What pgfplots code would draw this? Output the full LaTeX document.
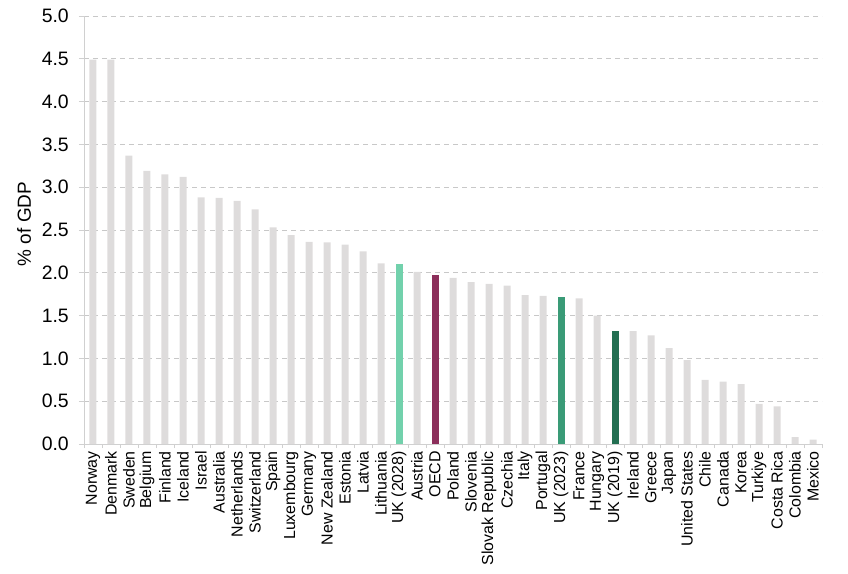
\documentclass[border=0pt]{standalone}
\usepackage{pgfplots}
\pgfplotsset{compat=1.18}
\usepackage{fontspec}
\setmainfont{Liberation Sans}
\definecolor{barg}{HTML}{DEDCDC}
\definecolor{uka}{HTML}{72D1AC}
\definecolor{oecd}{HTML}{8C2F5B}
\definecolor{ukb}{HTML}{3A9B77}
\definecolor{ukc}{HTML}{236F52}
\definecolor{gridc}{HTML}{C8C8C8}
\definecolor{axc}{HTML}{D0D0D0}
\begin{document}
\begin{tikzpicture}
\path[use as bounding box] (-84bp,-130bp) rectangle (764bp,444bp);
\begin{axis}[
  at={(0,0)}, anchor=south west,
  scale only axis, width=738bp, height=428bp,
  xmin=-0.5, xmax=40.5, ymin=0, ymax=5,
  ybar, bar width=7bp, bar shift=0pt,
  axis x line*=bottom, axis y line*=left,
  axis line style={axc, line width=0.8bp},
  xtick={0,...,40},
  xticklabels={Norway,Denmark,Sweden,Belgium,Finland,Iceland,Israel,Australia,Netherlands,Switzerland,Spain,Luxembourg,Germany,New Zealand,Estonia,Latvia,Lithuania,UK (2028),Austria,OECD,Poland,Slovenia,Slovak Republic,Czechia,Italy,Portugal,UK (2023),France,Hungary,UK (2019),Ireland,Greece,Japan,United States,Chile,Canada,Korea,Turkiye,Costa Rica,Colombia,Mexico},
  major x tick style={draw=none},
  minor xtick={-0.5,0.5,...,40.5},
  minor tick length=4bp,
  minor x tick style={axc, line width=0.8bp},
  ytick={0,0.5,...,5},
  major tick length=5bp,
  major y tick style={axc, line width=0.8bp},
  tick align=outside,
  xticklabel style={rotate=90, anchor=east, font=\fontsize{16}{18}\selectfont, inner sep=2bp},
  yticklabel style={font=\fontsize{19.5}{21}\selectfont, inner sep=5bp, xshift=-5bp},
  /pgf/number format/assume math mode=true,
  yticklabel={\pgfmathprintnumber[fixed,fixed zerofill,precision=1]{\tick}},
  ymajorgrids,
  major grid style={gridc, dashed, dash pattern=on 5bp off 4bp, line width=0.8bp},
  ylabel={\% of GDP},
  ylabel style={at={(axis description cs:-0.0813,0.514)}, anchor=center, font=\fontsize{19}{21}\selectfont},
  clip=false,
]
\addplot[fill=barg, draw=none] coordinates {
(0,4.49) (1,4.49) (2,3.37) (3,3.19) (4,3.15) (5,3.12) (6,2.88) (7,2.875) (8,2.84) (9,2.74)
(10,2.53) (11,2.44) (12,2.36) (13,2.355) (14,2.33) (15,2.25) (16,2.11) (18,2.01)
(20,1.94) (21,1.89) (22,1.87) (23,1.85) (24,1.74) (25,1.73) (27,1.70) (28,1.50)
(30,1.32) (31,1.27) (32,1.12) (33,0.98) (34,0.75) (35,0.73) (36,0.70) (37,0.47) (38,0.44) (39,0.08) (40,0.05)
};
\addplot[fill=uka, draw=none] coordinates {(17,2.10)};
\addplot[fill=oecd, draw=none] coordinates {(19,1.98)};
\addplot[fill=ukb, draw=none] coordinates {(26,1.72)};
\addplot[fill=ukc, draw=none] coordinates {(29,1.32)};
\end{axis}
\end{tikzpicture}
\end{document}
